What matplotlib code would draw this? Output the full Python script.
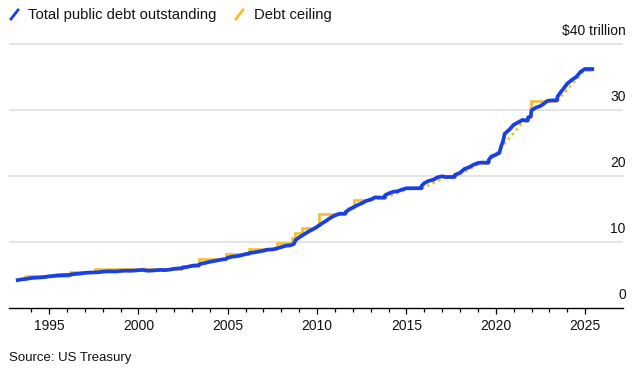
import matplotlib
matplotlib.use("Agg")
import matplotlib.pyplot as plt
from matplotlib.lines import Line2D

# ---------------- data (trillions of dollars) ----------------
debt_years = [
    1993.25, 1993.5, 1993.75, 1994.0, 1994.25, 1994.5, 1994.75, 1995.0, 1995.25, 1995.5,
    1995.75, 1995.9, 1996.2, 1996.25, 1996.5, 1996.75, 1997.0, 1997.25, 1997.5, 1997.75,
    1998.0, 1998.25, 1998.5, 1998.75, 1999.0, 1999.25, 1999.5, 1999.75, 2000.0, 2000.25,
    2000.5, 2000.75, 2001.0, 2001.25, 2001.5, 2001.75, 2002.0, 2002.25, 2002.45, 2002.5,
    2002.75, 2003.0, 2003.25, 2003.38, 2003.45, 2003.75, 2004.0, 2004.25, 2004.5, 2004.75,
    2004.88, 2005.0, 2005.25, 2005.5, 2005.75, 2006.0, 2006.21, 2006.25, 2006.5, 2006.75,
    2007.0, 2007.25, 2007.5, 2007.75, 2008.0, 2008.25, 2008.5, 2008.7, 2008.8, 2009.0,
    2009.25, 2009.5, 2009.75, 2010.0, 2010.25, 2010.5, 2010.75, 2011.0, 2011.25, 2011.4,
    2011.59, 2011.62, 2011.75, 2012.0, 2012.25, 2012.5, 2012.75, 2013.0, 2013.25, 2013.38,
    2013.5, 2013.79, 2013.8, 2014.0, 2014.25, 2014.5, 2014.75, 2015.0, 2015.2, 2015.5,
    2015.84, 2015.85, 2016.0, 2016.25, 2016.5, 2016.75, 2017.0, 2017.2, 2017.5, 2017.69,
    2017.71, 2018.0, 2018.25, 2018.5, 2018.75, 2019.0, 2019.17, 2019.4, 2019.59, 2019.61,
    2019.75, 2020.0, 2020.2, 2020.3, 2020.4, 2020.5, 2020.75, 2021.0, 2021.25, 2021.5,
    2021.59, 2021.79, 2021.81, 2021.96, 2021.98, 2022.0, 2022.25, 2022.5, 2022.75, 2022.9,
    2023.0, 2023.2, 2023.43, 2023.45, 2023.6, 2023.75, 2024.0, 2024.25, 2024.5, 2024.75,
    2024.98, 2025.0, 2025.25, 2025.4,
]
debt_values = [
    4.23, 4.35, 4.41, 4.54, 4.58, 4.63, 4.69, 4.80, 4.86, 4.95,
    4.97, 4.99, 5.02, 5.10, 5.16, 5.22, 5.32, 5.36, 5.38, 5.41,
    5.50, 5.55, 5.55, 5.53, 5.61, 5.65, 5.64, 5.66, 5.73, 5.77,
    5.65, 5.67, 5.73, 5.77, 5.73, 5.82, 5.94, 6.00, 6.02, 6.13,
    6.23, 6.40, 6.46, 6.46, 6.67, 6.84, 7.00, 7.13, 7.27, 7.38,
    7.40, 7.60, 7.78, 7.84, 7.98, 8.17, 8.27, 8.36, 8.42, 8.56,
    8.68, 8.85, 8.87, 9.02, 9.23, 9.44, 9.49, 9.69, 10.30, 10.70,
    11.13, 11.55, 11.90, 12.31, 12.77, 13.20, 13.67, 14.03, 14.27, 14.29,
    14.30, 14.58, 14.84, 15.22, 15.58, 15.87, 16.23, 16.43, 16.77, 16.74,
    16.74, 16.74, 17.08, 17.35, 17.60, 17.69, 17.94, 18.14, 18.15, 18.15,
    18.15, 18.49, 18.92, 19.26, 19.43, 19.81, 19.95, 19.85, 19.85, 19.85,
    20.16, 20.49, 21.06, 21.32, 21.70, 21.97, 22.03, 22.03, 22.02, 22.45,
    22.95, 23.22, 23.50, 24.50, 25.20, 26.40, 27.00, 27.75, 28.13, 28.50,
    28.43, 28.43, 28.90, 29.00, 29.60, 29.95, 30.37, 30.60, 31.08, 31.40,
    31.42, 31.46, 31.46, 32.00, 32.60, 33.10, 34.00, 34.55, 35.00, 35.80,
    36.20, 36.21, 36.21, 36.21,
]

# Debt ceiling: solid periods (start, end, level)
ceiling_start = [1993.6, 1996.2, 1997.6, 2002.45, 2003.38, 2004.88, 2006.21, 2007.74,
                 2008.57, 2008.76, 2009.13, 2009.99, 2010.12, 2011.59, 2011.72, 2012.08,
                 2013.38, 2015.2, 2017.2, 2019.17, 2021.59, 2021.79, 2021.96, 2025.0]
ceiling_end = [1996.2, 1997.6, 2002.45, 2003.38, 2004.88, 2006.21, 2007.74, 2008.57,
               2008.76, 2009.13, 2009.99, 2010.12, 2011.59, 2011.72, 2012.08, 2013.1,
               2013.79, 2015.84, 2017.69, 2019.59, 2021.79, 2021.96, 2023.43, 2025.4]
ceiling_level = [4.90, 5.50, 5.95, 6.40, 7.384, 8.184, 8.965, 9.815,
                 10.615, 11.315, 12.104, 12.394, 14.294, 14.694, 15.194, 16.394,
                 16.699, 18.113, 19.809, 21.988, 28.401, 28.881, 31.381, 36.10]
# Suspension periods (dotted): start, end, level at start, level at end
susp_start = [2013.1, 2013.79, 2015.84, 2017.69, 2019.59, 2023.43]
susp_end = [2013.38, 2015.2, 2017.2, 2019.17, 2021.59, 2025.0]
susp_from = [16.394, 16.699, 18.113, 19.809, 21.988, 31.381]
susp_to = [16.699, 18.113, 19.809, 21.988, 28.401, 36.10]

y_ticks = [0, 10, 20, 30, 40]
y_labels = ["0", "10", "20", "30", "$40 trillion"]
x_major = [1995, 2000, 2005, 2010, 2015, 2020, 2025]
x_minor = list(range(1994, 2025))

BLUE = "#1840e6"
GOLD = "#f4bd2a"
FONT = "Liberation Sans"

W, H = 643, 377
fig = plt.figure(figsize=(W / 100, H / 100), dpi=100)
plt.rcParams["font.family"] = [FONT, "DejaVu Sans"]

# axes in pixel coords
x0px, x1px = 9, 623
ybot, ytop = 308, 37.4
ax = fig.add_axes([x0px / W, 1 - ybot / H, (x1px - x0px) / W, (ybot - ytop) / H])
ax.set_xlim(1992.76, 2027.12)
ax.set_ylim(0, 41)

for s in ["top", "right", "left"]:
    ax.spines[s].set_visible(False)
ax.spines["bottom"].set_linewidth(1.0)
ax.spines["bottom"].set_color("black")
ax.set_yticks([])
for yv in y_ticks[1:]:
    ax.axhline(yv, color="#dcdcdc", lw=1.1, zorder=0)

ax.set_xticks(x_major)
ax.set_xticklabels([str(v) for v in x_major], fontsize=10, color="#111111")
ax.set_xticks(x_minor, minor=True)
ax.tick_params(axis="x", which="major", length=4.2, width=0.9, pad=3.5, color="black")
ax.tick_params(axis="x", which="minor", length=3.0, width=0.9, color="black")

for yv, lab in zip(y_ticks, y_labels):
    ax.annotate(lab, xy=(1.0, yv), xycoords=("axes fraction", "data"),
                xytext=(2, 4), textcoords="offset points", ha="right", va="bottom",
                fontsize=10, color="#111111")

# ceiling: solid steps, rising from the previous level when contiguous
for i, (s0, s1, lv) in enumerate(zip(ceiling_start, ceiling_end, ceiling_level)):
    xs, ys = [s0, s1], [lv, lv]
    if i > 0 and abs(ceiling_end[i - 1] - s0) < 1e-9:
        xs = [s0] + xs
        ys = [ceiling_level[i - 1]] + ys
    ax.plot(xs, ys, color=GOLD, lw=1.9, zorder=2, solid_capstyle="butt",
            solid_joinstyle="miter")
for s0, s1, a, b in zip(susp_start, susp_end, susp_from, susp_to):
    ax.plot([s0, s1], [a, b], color=GOLD, lw=1.9, ls=(0, (1.0, 1.3)), zorder=2)

# debt
ax.plot(debt_years, debt_values, color=BLUE, lw=2.7, zorder=3,
        solid_joinstyle="round")

# legend
def px(x, y):
    return x / W, 1 - y / H

for (xa, ya, xb, yb), col in [((11, 19, 18, 10), BLUE), ((236, 19, 243, 10), GOLD)]:
    (fx0, fy0), (fx1, fy1) = px(xa, ya), px(xb, yb)
    fig.add_artist(Line2D([fx0, fx1], [fy0, fy1], color=col, lw=2.0,
                          transform=fig.transFigure))
fig.text(*px(28, 14.5), "Total public debt outstanding", fontsize=10.6, va="center",
         ha="left", color="#111111")
fig.text(*px(254, 14.5), "Debt ceiling", fontsize=10.6, va="center", ha="left",
         color="#111111")
fig.text(*px(9, 358), "Source: US Treasury", fontsize=9.5, va="center", ha="left",
         color="#111111")

fig.savefig("out.png", dpi=100, facecolor="white")
